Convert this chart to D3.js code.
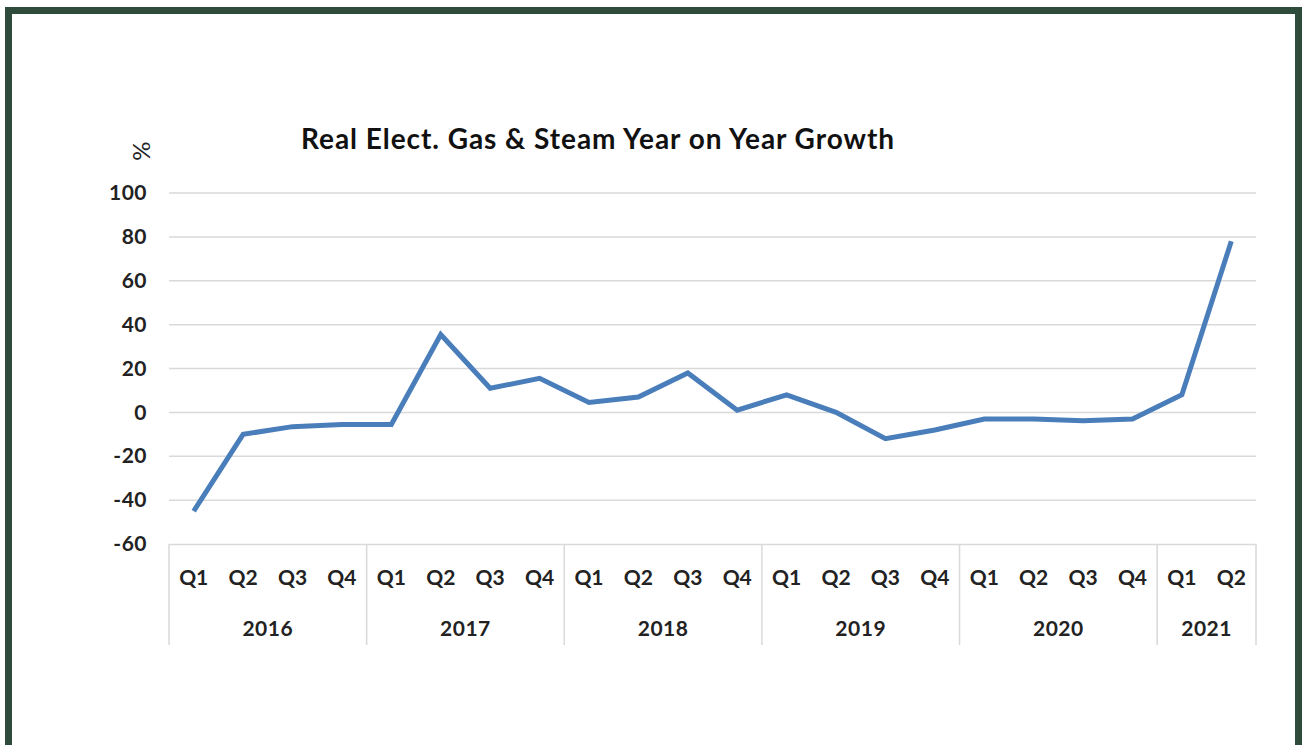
<!DOCTYPE html>
<html>
<head>
<meta charset="utf-8">
<script src="https://cdn.jsdelivr.net/npm/d3@7"></script>
<style>
  body { margin: 0; background: #fff; }
  svg { display: block; font-family: Lato, "Open Sans", sans-serif; }
</style>
</head>
<body>
<svg id="chart" width="1306" height="745"></svg>
<script>
// Data
const years = ['2016', '2017', '2018', '2019', '2020', '2021'];
const quartersPerYear = [4, 4, 4, 4, 4, 2];
const quarters = ['Q1', 'Q2', 'Q3', 'Q4'];
const growth = [-45, -10, -6.5, -5.5, -5.5, 35.5, 11, 15.5, 4.5, 7, 18, 1, 8, 0, -12, -8, -3, -3, -3.8, -3, 8, 78];
const yTicks = [-60, -40, -20, 0, 20, 40, 60, 80, 100];

// Build category keys
const cats = [];
years.forEach((yr, i) => {
  for (let q = 0; q < quartersPerYear[i]; q++) cats.push({key: yr + '-' + quarters[q], year: yr, q: quarters[q]});
});

const svg = d3.select('#chart');
const plot = {left: 169, right: 1256, top: 193, bottom: 544};

// Frame
svg.append('rect')
  .attr('x', 8.5).attr('y', 10.5)
  .attr('width', 1290).attr('height', 760)
  .attr('fill', 'none')
  .attr('stroke', '#2f4b3b')
  .attr('stroke-width', 7);

const x = d3.scaleBand()
  .domain(cats.map(d => d.key))
  .range([plot.left, plot.right]);

const y = d3.scaleLinear()
  .domain([-60, 100])
  .range([plot.bottom, plot.top]);

// Gridlines
svg.append('g')
  .selectAll('line')
  .data(yTicks.filter(t => t !== -60))
  .join('line')
  .attr('x1', plot.left).attr('x2', plot.right)
  .attr('y1', d => y(d)).attr('y2', d => y(d))
  .attr('stroke', '#d9d9d9')
  .attr('stroke-width', 1.5);

// Y axis labels
const yAxis = svg.append('g')
  .attr('transform', `translate(${plot.left},0)`)
  .call(d3.axisLeft(y).tickValues(yTicks).tickSize(0).tickPadding(22).tickFormat(d => String(d)));
yAxis.select('.domain').remove();
yAxis.selectAll('text')
  .attr('font-family', 'Lato, sans-serif')
  .attr('font-size', 21)
  .attr('font-weight', 'bold')
  .attr('letter-spacing', 0.5)
  .attr('fill', '#222');

// Category axis (quarters)
const xAxis = svg.append('g')
  .attr('transform', `translate(0,${plot.bottom})`)
  .call(d3.axisBottom(x).tickSize(0).tickPadding(26).tickFormat(k => cats.find(c => c.key === k).q));
xAxis.select('.domain')
  .attr('stroke', '#d9d9d9')
  .attr('stroke-width', 1.5);
xAxis.selectAll('text')
  .attr('font-family', 'Lato, sans-serif')
  .attr('font-size', 21)
  .attr('font-weight', 'bold')
  .attr('fill', '#222');

// Year groups
let start = 0;
const groups = years.map((yr, i) => {
  const g = {year: yr, first: cats[start].key, last: cats[start + quartersPerYear[i] - 1].key};
  start += quartersPerYear[i];
  return g;
});
const sepX = [plot.left].concat(groups.map(g => x(g.last) + x.bandwidth()));
svg.append('g')
  .selectAll('line')
  .data(sepX)
  .join('line')
  .attr('x1', d => d).attr('x2', d => d)
  .attr('y1', plot.bottom).attr('y2', 645)
  .attr('stroke', '#d9d9d9')
  .attr('stroke-width', 1.5);
svg.append('g')
  .selectAll('text')
  .data(groups)
  .join('text')
  .attr('x', g => (x(g.first) + x(g.last) + x.bandwidth()) / 2)
  .attr('y', 636)
  .attr('text-anchor', 'middle')
  .attr('font-size', 21)
  .attr('font-weight', 'bold')
  .attr('letter-spacing', 0.5)
  .attr('fill', '#222')
  .text(g => g.year);

// Line
const line = d3.line()
  .x((d, i) => x(cats[i].key) + x.bandwidth() / 2)
  .y(d => y(d));
svg.append('path')
  .datum(growth)
  .attr('d', line)
  .attr('fill', 'none')
  .attr('stroke', '#4a7ebb')
  .attr('stroke-width', 5)
  .attr('stroke-linejoin', 'miter');

// Title
svg.append('text')
  .attr('x', 598)
  .attr('y', 149)
  .attr('text-anchor', 'middle')
  .attr('font-size', 28)
  .attr('font-weight', 'bold')
  .attr('letter-spacing', 0.95)
  .attr('fill', '#111')
  .text('Real Elect. Gas & Steam Year on Year Growth');

// Unit label
svg.append('text')
  .attr('transform', 'translate(150,151) rotate(-90)')
  .attr('text-anchor', 'middle')
  .attr('font-size', 24)
  .attr('fill', '#222')
  .text('%');
</script>
</body>
</html>
